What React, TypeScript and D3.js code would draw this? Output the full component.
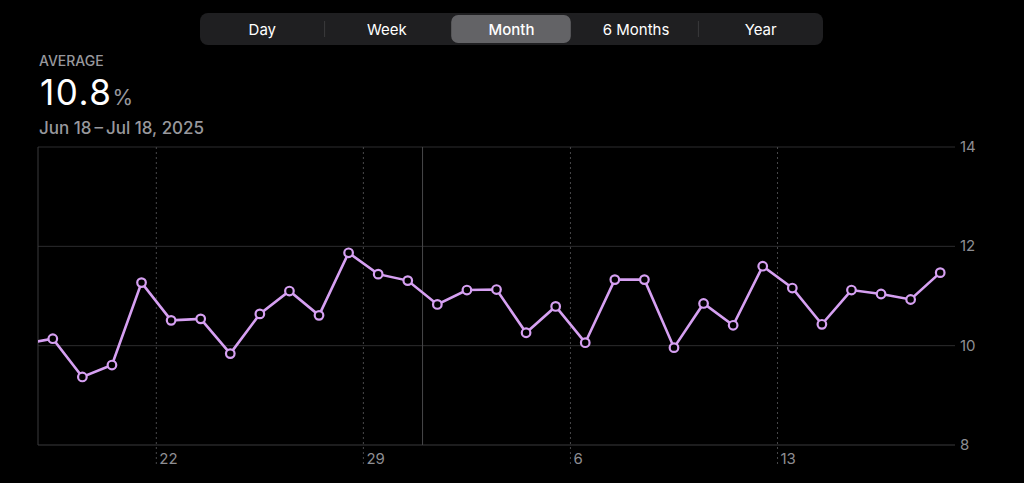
import React from "react";
import * as d3 from "d3";

const segments = ["Day", "Week", "Month", "6 Months", "Year"];
const selectedSegment = "Month";

const summaryLabel = "AVERAGE";
const summaryValue = "10.8";
const summaryUnit = "%";
const dateRange = "Jun 18\u2009\u2013\u2009Jul 18, 2025";

// daily values starting Jun 17, 2025 (Jun 17 lies just left of the visible range)
const startDate = new Date(2025, 5, 17);
const values = [
  10.03, 10.14, 9.37, 9.61, 11.27, 10.51, 10.54, 9.84, 10.64, 11.1, 10.61,
  11.87, 11.44, 11.31, 10.83, 11.12, 11.13, 10.26, 10.79, 10.06, 11.33, 11.33,
  9.96, 10.85, 10.41, 11.6, 11.16, 10.43, 11.12, 11.04, 10.93, 11.47,
];

const yTicks = [8, 10, 12, 14];
const domainStart = new Date(2025, 5, 18);
const domainEnd = new Date(2025, 6, 19);

const W = 1024;
const H = 483;
const M = { left: 38, right: 955, top: 147, bottom: 445 };
const FONT = "Inter, 'Noto Sans', sans-serif";

export default function App() {
  const x = d3.scaleTime().domain([domainStart, domainEnd]).range([M.left, M.right]);
  const y = d3.scaleLinear().domain([8, 14]).range([M.bottom, M.top]);

  const data = values.map((v, i) => ({
    date: d3.timeHour.offset(d3.timeDay.offset(startDate, i), 12),
    value: v,
  }));

  const line = d3
    .line<{ date: Date; value: number }>()
    .x((d) => x(d.date))
    .y((d) => y(d.value));

  const weeks = d3.timeSunday.range(domainStart, domainEnd);
  const months = d3.timeMonth.range(d3.timeDay.offset(domainStart, 1), domainEnd);
  const fmtDay = d3.timeFormat("%-d");

  const segX = d3.scaleBand<string>().domain(segments).range([200, 823]);

  return (
    <svg
      width={W}
      height={H}
      style={{ position: "absolute", left: 0, top: 0, background: "#000", display: "block" }}
      fontFamily={FONT}
    >
      <rect x={0} y={0} width={W} height={H} fill="#000" />
      {/* segmented control */}
      <rect x={200} y={13} width={623} height={32} rx={8} fill="#1f1f21" />
      {segments.map((s, i) => {
        const sx = segX(s)!;
        const bw = segX.bandwidth();
        const sel = s === selectedSegment;
        const nextSel = segments[i + 1] === selectedSegment;
        return (
          <g key={s}>
            {sel && <rect x={sx + 2} y={15} width={bw - 5} height={28} rx={7} fill="#636366" />}
            {i < segments.length - 1 && !sel && !nextSel && (
              <line x1={sx + bw} x2={sx + bw} y1={21} y2={37} stroke="#3a3a3c" strokeWidth={1} />
            )}
            <text
              x={sx + bw / 2}
              y={34.5}
              textAnchor="middle"
              fontSize={15}
              fill="#fff"
              fontWeight={sel ? 500 : 400}
            >
              {s}
            </text>
          </g>
        );
      })}

      {/* header */}
      <text x={39} y={66} fontSize={14} fill="#98989d" fontWeight={500}>
        {summaryLabel}
      </text>
      <text x={40} y={105} fontSize={35} fill="#fff" fontWeight={400} letterSpacing={1.5}>
        {summaryValue}
        <tspan fontSize={21} fill="#98989d" dx={0} letterSpacing={0}>
          {summaryUnit}
        </tspan>
      </text>
      <text x={39} y={134} fontSize={17} fill="#98989d" fontWeight={500}>
        {dateRange}
      </text>

      {/* grid */}
      {yTicks.map((t) => (
        <g key={t}>
          <line
            x1={M.left}
            x2={M.right}
            y1={y(t)}
            y2={y(t)}
            stroke={t === 8 ? "#3a3a3c" : "#2c2c2e"}
            strokeWidth={1}
          />
          <text x={960} y={y(t) + 5} fontSize={15} fill="#8e8e93">
            {t}
          </text>
        </g>
      ))}
      <line x1={M.left} x2={M.left} y1={M.top} y2={M.bottom} stroke="#3a3a3c" strokeWidth={1} />
      {weeks.map((d) => (
        <g key={+d}>
          <line
            x1={x(d)}
            x2={x(d)}
            y1={M.top}
            y2={466}
            stroke="#48484a"
            strokeWidth={1}
            strokeDasharray="2,3"
          />
          <text x={x(d) + 3} y={464} fontSize={15} fill="#8e8e93">
            {fmtDay(d)}
          </text>
        </g>
      ))}
      {months.map((d) => (
        <line key={+d} x1={x(d)} x2={x(d)} y1={M.top} y2={M.bottom} stroke="#48484a" strokeWidth={1} />
      ))}

      {/* data */}
      <defs>
        <clipPath id="plotClip">
          <rect x={M.left} y={0} width={M.right - M.left} height={H} />
        </clipPath>
      </defs>
      <g clipPath="url(#plotClip)">
        <path d={line(data) || ""} fill="none" stroke="#d6a0f2" strokeWidth={2.6} />
        {data
          .filter((d) => d.date > domainStart)
          .map((d) => (
            <circle
              key={+d.date}
              cx={x(d.date)}
              cy={y(d.value)}
              r={4.3}
              fill="#000"
              stroke="#d6a0f2"
              strokeWidth={2.2}
            />
          ))}
      </g>
    </svg>
  );
}
